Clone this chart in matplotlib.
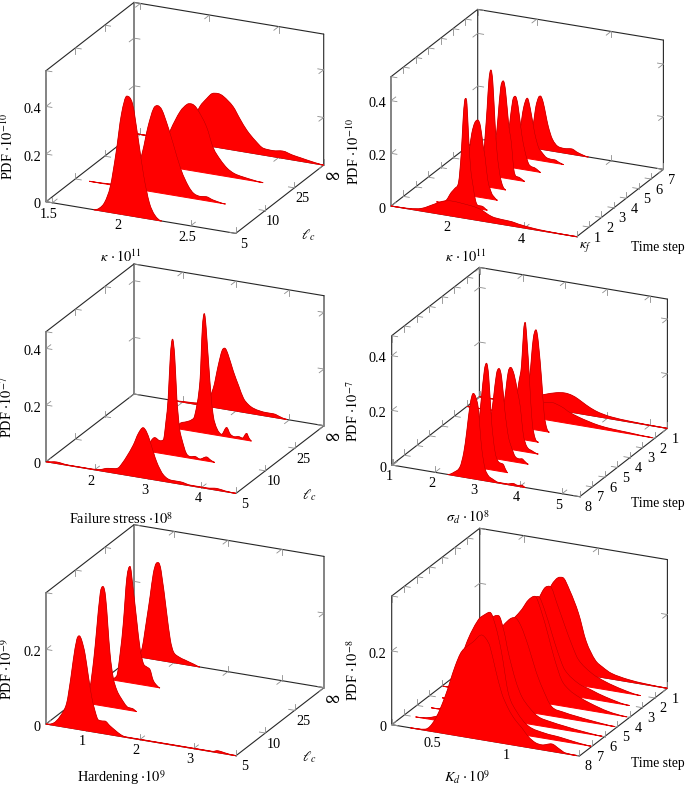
import numpy as np
import matplotlib
matplotlib.use('Agg')
import matplotlib.pyplot as plt
from matplotlib.path import Path
from matplotlib.patches import PathPatch

plt.rcParams['font.family'] = ['Liberation Serif', 'DejaVu Sans']
plt.rcParams['mathtext.fontset'] = 'stix'

# top left: kappa against l_c
kappa_lc_x = [
    [1.80, 1.84, 1.88, 1.92, 1.96, 2.00, 2.04, 2.08, 2.12, 2.16, 2.20, 2.24, 2.29],
    [1.555, 1.70, 1.80, 1.88, 1.94, 1.98, 2.02, 2.05, 2.08, 2.12, 2.16, 2.22, 2.27, 2.31, 2.36, 2.40, 2.45, 2.54],
    [1.62, 1.75, 1.85, 1.93, 2.00, 2.05, 2.08, 2.12, 2.19, 2.24, 2.29, 2.34, 2.39, 2.45, 2.60],
    [1.48, 1.60, 1.75, 1.85, 1.93, 1.98, 2.02, 2.06, 2.10, 2.17, 2.22, 2.27, 2.33, 2.39, 2.46, 2.53, 2.60, 2.66, 2.74, 2.826],
]
kappa_lc_y = [
    [0, .01, .04, .11, .25, .42, .50, .47, .33, .18, .07, .02, 0],
    [0, .003, .01, .04, .16, .27, .35, .365, .35, .29, .22, .11, .05, .022, .014, .017, .008, 0],
    [0, .005, .03, .155, .24, .275, .28, .265, .196, .11, .066, .035, .018, .01, 0],
    [0, .002, .01, .06, .158, .197, .222, .226, .218, .182, .135, .092, .055, .028, .025, .03, .02, .014, .006, 0],
]

# top right: kappa against time step
kappa_ts_x = [
    [.41, .9, 1.235, 1.59, 1.8, 2.04, 2.3, 2.76, 3.12, 3.4, 3.66, 3.84, 4.2, 4.55, 5.41],
    [1.3, 1.55, 1.70, 1.80, 1.90, 1.97, 2.02, 2.06, 2.09, 2.12, 2.16, 2.22, 2.29, 2.35, 2.42, 2.52, 2.60, 2.67],
    [1.4, 1.7, 1.85, 1.92, 2.0, 2.08, 2.15, 2.22, 2.275, 2.35, 2.45, 2.52, 2.61],
    [1.5, 1.75, 1.88, 1.95, 2.0, 2.05, 2.10, 2.15, 2.21, 2.27, 2.35, 2.42, 2.5],
    [1.5, 1.78, 1.9, 1.96, 2.03, 2.10, 2.16, 2.24, 2.32, 2.38, 2.44, 2.52, 2.6, 2.68],
    [1.5, 1.75, 1.87, 1.94, 2.02, 2.09, 2.16, 2.26, 2.35, 2.44, 2.52, 2.6, 2.68, 2.77],
    [1.5, 1.75, 1.88, 1.98, 2.08, 2.16, 2.28, 2.38, 2.46, 2.6, 2.75, 2.82, 2.92, 3.06],
    [1.5, 1.7, 1.82, 1.91, 1.98, 2.05, 2.10, 2.17, 2.24, 2.31, 2.42, 2.58, 2.75, 2.94, 3.1, 3.39],
]
kappa_ts_y = [
    [0, .002, .01, .035, .05, .057, .055, .046, .023, .018, .016, .011, .005, .002, 0],
    [0, .01, .045, .063, .09, .20, .33, .40, .411, .39, .28, .15, .08, .03, .012, .012, .006, 0],
    [0, .03, .17, .238, .28, .292, .27, .2, .157, .07, .023, .01, 0],
    [0, .02, .08, .2, .3, .41, .446, .40, .245, .13, .047, .012, 0],
    [0, .03, .14, .228, .34, .368, .33, .21, .135, .04, .014, .012, .006, 0],
    [0, .03, .11, .167, .255, .273, .24, .135, .07, .027, .016, .014, .008, 0],
    [0, .03, .10, .19, .229, .19, .10, .05, .034, .015, .012, .012, .006, 0],
    [0, .02, .06, .094, .16, .195, .201, .18, .135, .09, .045, .02, .017, .02, .01, 0],
]

# middle left: failure stress against l_c
stress_lc_x = [
    [1.0875, 1.29, 1.5, 1.9, 2.1, 2.225, 2.3, 2.44, 2.52, 2.6, 2.725, 2.82, 2.91, 2.97, 3.04, 3.16, 3.29, 3.45, 3.6, 3.8, 4.1, 4.29, 4.45, 4.65],
    [2.44, 2.5, 2.58, 2.67, 2.74, 2.79, 2.83, 2.87, 2.91, 2.95, 2.99, 3.04, 3.08, 3.17, 3.25, 3.33, 3.42, 3.55, 3.62, 3.7],
    [2.44, 2.5, 2.625, 2.72, 2.78, 2.875, 2.92, 2.956, 2.99, 3.06, 3.12, 3.19, 3.28, 3.375, 3.44, 3.52, 3.6, 3.67, 3.75, 3.79, 3.84],
    [1.76, 2.0, 2.3, 2.45, 2.575, 2.67, 2.74, 2.79, 2.85, 2.95, 3.05, 3.14, 3.23, 3.32, 3.45, 3.575, 3.7, 3.85, 3.95],
]
stress_lc_y = [
    [0, .005, .001, .001, .004, .012, .014, .02, .04, .065, .11, .154, .177, .165, .132, .065, .022, .008, .008, .002, .002, .006, .002, 0],
    [0, .035, .052, .044, .05, .12, .2, .35, .41, .35, .203, .1, .065, .014, .006, .009, .003, .014, .006, 0],
    [0, .02, .03, .04, .059, .18, .37, .422, .37, .185, .07, .024, .006, .033, .012, .005, .008, .005, .024, .01, 0],
    [0, .002, .006, .015, .067, .152, .205, .215, .195, .138, .09, .049, .03, .02, .014, .012, .012, .004, 0],
]

# middle right: sigma_d against time step
sigma_ts_x = [
    [2.3, 2.45, 2.59, 2.68, 2.75, 2.83, 2.905, 2.96, 3.02, 3.1, 3.18, 3.26, 3.34, 3.5, 3.7, 3.85, 3.95, 4.05, 4.13],
    [2.4, 2.6, 2.72, 2.8, 2.87, 2.92, 2.97, 3.04, 3.12, 3.2, 3.26, 3.31, 3.37, 3.42],
    [2.4, 2.6, 2.72, 2.79, 2.86, 2.92, 2.98, 3.06, 3.14, 3.22, 3.3, 3.4, 3.46, 3.53, 3.61],
    [2.4, 2.6, 2.76, 2.84, 2.9, 2.98, 3.06, 3.12, 3.2, 3.28, 3.4, 3.55],
    [2.4, 2.6, 2.72, 2.8, 2.86, 2.91, 2.945, 2.98, 3.05, 3.11, 3.18, 3.26],
    [2.4, 2.6, 2.76, 2.84, 2.905, 2.96, 3.04, 3.1, 3.16, 3.22],
    [.976, 1.5, 2.0, 2.4, 2.7, 2.98, 3.22, 3.4, 3.61, 3.85, 4.09, 4.4, 4.8, 5.36],
    [.976, 1.5, 2.0, 2.3, 2.53, 2.8, 3.0, 3.16, 3.31, 3.5, 3.71, 3.9, 4.1, 4.5, 5.417],
]
sigma_ts_y = [
    [0, .012, .035, .09, .168, .27, .312, .30, .26, .12, .045, .02, .012, .002, .002, .007, .003, .006, 0],
    [0, .04, .14, .256, .36, .387, .34, .176, .07, .034, .03, .028, .01, 0],
    [0, .04, .14, .22, .31, .332, .3, .178, .09, .049, .02, .014, .016, .008, 0],
    [0, .04, .183, .28, .30, .275, .215, .168, .06, .02, .008, 0],
    [0, .03, .13, .21, .27, .4, .43, .38, .216, .07, .012, 0],
    [0, .03, .196, .33, .366, .32, .18, .06, .012, 0],
    [0, .002, .008, .03, .055, .067, .057, .042, .03, .02, .012, .007, .004, 0],
    [0, .002, .012, .035, .049, .062, .066, .062, .052, .035, .02, .012, .007, .003, 0],
]

# bottom left: hardening against l_c
hard_lc_x = [
    [.257, .40, .517, .64, .72, .765, .83, .876, .92, .98, 1.04, 1.105, 1.17, 1.23, 1.3, 1.353, 1.44, 1.54, 1.64, 1.73, 2.2, 3.0, 3.35, 3.45, 3.52, 3.65, 3.787],
    [.257, .4, .53, .6, .653, .72, .771, .82, .9, .96, 1.025, 1.1, 1.24, 1.32, 1.4],
    [.3, .48, .55, .604, .67, .728, .78, .851, .91, .975, 1.04, 1.1, 1.15, 1.19, 1.285],
    [.28, .4, .492, .56, .616, .67, .709, .76, .864, .93, .988, 1.08, 1.2, 1.36, 1.48],
]
hard_lc_y = [
    [0, .006, .026, .064, .135, .184, .24, .251, .24, .206, .15, .094, .055, .034, .033, .034, .024, .014, .005, .001, .001, .001, .001, .005, .004, .001, 0],
    [0, .005, .045, .12, .2, .3, .32, .29, .144, .08, .049, .03, .007, .006, 0],
    [0, .012, .08, .156, .28, .312, .26, .171, .1, .058, .05, .044, .02, .01, 0],
    [0, .02, .102, .17, .229, .258, .261, .24, .129, .06, .029, .018, .012, .005, 0],
]

# bottom right: K_d against time step
kd_ts_x = [
    [.33, .43, .495, .563, .63, .675, .753, .81, .84, .865, .9, .944, .99, 1.034, 1.08, 1.123, 1.17, 1.213, 1.28, 1.33, 1.37, 1.45],
    [.28, .4, .47, .55, .62, .7, .75, .78, .82, .859, .904, .96, 1.038, 1.15, 1.25, 1.37, 1.46],
    [.3, .45, .55, .63, .7, .753, .79, .82, .87, .91, .96, 1.02, 1.1, 1.2, 1.32, 1.45],
    [.29, .45, .55, .65, .735, .78, .82, .87, .92, .96, 1.027, 1.1, 1.2, 1.32, 1.45],
    [.21, .45, .55, .65, .74, .785, .83, .87, .92, .96, 1.009, 1.06, 1.12, 1.2, 1.32, 1.446],
    [.3, .45, .55, .65, .72, .768, .81, .858, .9, .946, 1.036, 1.12, 1.22, 1.38],
    [.3, .45, .55, .65, .72, .762, .81, .863, .91, .953, 1.04, 1.13, 1.25, 1.37],
    [.3, .45, .55, .65, .688, .73, .76, .81, .868, .92, .98, 1.03, 1.09, 1.2, 1.32, 1.466],
]
kd_ts_y = [
    [0, .003, .033, .1, .186, .23, .262, .284, .275, .256, .2, .135, .095, .069, .05, .029, .016, .013, .02, .01, .002, 0],
    [0, .008, .03, .12, .22, .29, .31, .317, .28, .212, .106, .06, .026, .014, .01, .003, 0],
    [0, .01, .08, .19, .265, .28, .24, .183, .11, .071, .045, .024, .016, .01, .004, 0],
    [0, .01, .07, .19, .24, .25, .23, .178, .115, .075, .025, .016, .01, .004, 0],
    [0, .01, .07, .19, .243, .272, .285, .25, .183, .125, .07, .047, .033, .02, .006, 0],
    [0, .01, .07, .18, .24, .254, .22, .161, .11, .067, .037, .025, .012, 0],
    [0, .01, .07, .18, .245, .255, .21, .153, .105, .069, .039, .022, .008, 0],
    [0, .01, .07, .19, .228, .25, .253, .22, .163, .09, .044, .028, .015, .006, .002, 0],
]

lc_labels = ['5', '10', '25', r'$\infty$']
step_labels_up = [r'$\kappa_f$', '1', '2', '3', '4', '5', '6', '7']
step_labels_down = ['8', '7', '6', '5', '4', '3', '2', '1']

# box geometry in pixels: origin, x edge, depth edge, height
panels = [
    dict(xs=kappa_lc_x, ys=kappa_lc_y, o=(46, 201.7), xv=(189.7, 31.7), dv=(88, -68.3), zh=131,
         xlim=(1.454, 2.826), zmax=.55, xticks=[1.5, 2, 2.5], xtl=['1.5', '2', '2.5'],
         zticks=[.2, .4], ztl=['0.2', '0.4'], dtl=lc_labels,
         xlabel=r'$\kappa\,\cdot 10^{11}$', xl=(120.7, 257), ylabel=r'PDF $\cdot 10^{-10}$', yl=(7.5, 147),
         side=r'$\ell_c$', sl=(308.5, 235)),
    dict(xs=kappa_ts_x, ys=kappa_ts_y, o=(391, 206), xv=(185.7, 30.7), dv=(86.7, -67.3), zh=129.3,
         xlim=(.41, 5.41), zmax=.491, xticks=[2, 4], xtl=['2', '4'],
         zticks=[.2, .4], ztl=['0.2', '0.4'], dtl=step_labels_up,
         xlabel=r'$\kappa\,\cdot 10^{11}$', xl=(465.7, 257), ylabel=r'PDF $\cdot 10^{-10}$', yl=(353.5, 152),
         side='Time step', sl=(631, 247.7)),
    dict(xs=stress_lc_x, ys=stress_lc_y, o=(46, 461.7), xv=(190, 31.7), dv=(88, -67.7), zh=130,
         xlim=(1.0875, 4.65), zmax=.459, xticks=[2, 3, 4], xtl=['2', '3', '4'],
         zticks=[.2, .4], ztl=['0.2', '0.4'], dtl=lc_labels,
         xlabel=r'Failure stress $\cdot 10^{8}$', xl=(121, 519), ylabel=r'PDF $\cdot 10^{-7}$', yl=(7.5, 407),
         side=r'$\ell_c$', sl=(309.5, 495)),
    dict(xs=sigma_ts_x, ys=sigma_ts_y, o=(391.7, 465), xv=(188, 31.7), dv=(87.7, -68.3), zh=129.3,
         xlim=(.976, 5.417), zmax=.473, xticks=[1, 2, 3, 4, 5], xtl=['1', '2', '3', '4', '5'],
         zticks=[.2, .4], ztl=['0.2', '0.4'], dtl=step_labels_down,
         xlabel=r'$\sigma_d\,\cdot 10^{8}$', xl=(467.7, 517.7), ylabel=r'PDF $\cdot 10^{-7}$', yl=(353.5, 411),
         side='Time step', sl=(631, 503.3)),
    dict(xs=hard_lc_x, ys=hard_lc_y, o=(46, 724), xv=(190, 31.7), dv=(88, -68), zh=131.3,
         xlim=(.257, 3.787), zmax=.352, xticks=[1, 2, 3], xtl=['1', '2', '3'],
         zticks=[.2], ztl=['0.2'], dtl=lc_labels,
         xlabel=r'Hardening $\cdot 10^{9}$', xl=(121.7, 777.5), ylabel=r'PDF $\cdot 10^{-9}$', yl=(7.5, 669),
         side=r'$\ell_c$', sl=(309.5, 757)),
    dict(xs=kd_ts_x, ys=kd_ts_y, o=(391.7, 724.7), xv=(187.7, 31.3), dv=(88, -67.7), zh=128.7,
         xlim=(.204, 1.466), zmax=.349, xticks=[.5, 1], xtl=['0.5', '1'],
         zticks=[.2], ztl=['0.2'], dtl=step_labels_down,
         xlabel=r'$K_d\,\cdot 10^{9}$', xl=(466.7, 777.5), ylabel=r'PDF $\cdot 10^{-8}$', yl=(353.5, 670),
         side='Time step', sl=(631, 763.3)),
]

LINE = '#262626'
TICK = '#8c8c8c'
FONT = 10.3
PRONG = 6.0


def project(p, x, d, z):
    u = (np.asarray(x, dtype=float) - p['xlim'][0]) / (p['xlim'][1] - p['xlim'][0])
    px = p['o'][0] + u * p['xv'][0] + d * p['dv'][0]
    py = p['o'][1] + u * p['xv'][1] + d * p['dv'][1] - np.asarray(z, dtype=float) / p['zmax'] * p['zh']
    return px, py


def slopes(x, y):
    h = np.diff(x)
    s = np.diff(y) / h
    m = np.zeros(len(x))
    for i in range(1, len(x) - 1):
        if s[i - 1] * s[i] > 0:
            m[i] = (y[i + 1] - y[i - 1]) / (x[i + 1] - x[i - 1])
            m[i] = np.sign(m[i]) * min(abs(m[i]), 3 * abs(s[i - 1]), 3 * abs(s[i]))
    return m


def curve_paths(p, xs, ys, d):
    # bezier pieces through the read points, top edge and closed outline
    x = np.array(xs, dtype=float)
    y = np.array(ys, dtype=float)
    m = slopes(x, y)
    verts = [project(p, x[0], d, y[0])]
    codes = [Path.MOVETO]
    for i in range(len(x) - 1):
        h = x[i + 1] - x[i]
        verts.append(project(p, x[i] + h / 3, d, max(y[i] + m[i] * h / 3, 0)))
        verts.append(project(p, x[i + 1] - h / 3, d, max(y[i + 1] - m[i + 1] * h / 3, 0)))
        verts.append(project(p, x[i + 1], d, y[i + 1]))
        codes += [Path.CURVE4] * 3
    top = Path(verts, codes)
    closed = Path(verts + [project(p, x[0], d, 0)], codes + [Path.LINETO])
    return top, closed


def prong(ax, start, other):
    v = np.array(other) - np.array(start)
    v = v / np.hypot(v[0], v[1]) * PRONG
    ax.plot([start[0], start[0] + v[0]], [start[1], start[1] + v[1]], color=TICK, lw=0.6, zorder=2)


def draw_box(ax, p):
    x0, x1 = p['xlim']
    zm = p['zmax']
    edges = [
        ((x0, 0, 0), (x1, 0, 0)), ((x0, 1, 0), (x1, 1, 0)), ((x0, 1, zm), (x1, 1, zm)),
        ((x0, 0, 0), (x0, 1, 0)), ((x0, 0, zm), (x0, 1, zm)), ((x1, 0, 0), (x1, 1, 0)),
        ((x0, 0, 0), (x0, 0, zm)), ((x0, 1, 0), (x0, 1, zm)), ((x1, 1, 0), (x1, 1, zm)),
    ]
    for a, b in edges:
        pa, pb = project(p, *a), project(p, *b)
        ax.plot([pa[0], pb[0]], [pa[1], pb[1]], color=LINE, lw=0.8, zorder=1,
                solid_capstyle='round', snap=False)

    # every tick is two short prongs pointing into the box
    for xt in p['xticks']:
        for d, z, dd, dz in [(0, 0, 1, zm), (1, 0, 0, zm), (1, zm, 0, 0)]:
            s = project(p, xt, d, z)
            prong(ax, s, project(p, xt, dd, z))
            prong(ax, s, project(p, xt, d, dz))
    nd = len(p['dtl'])
    for i in range(nd):
        d = i / (nd - 1)
        for x, z, ox, oz in [(x0, 0, x1, zm), (x0, zm, x1, 0), (x1, 0, x0, zm)]:
            s = project(p, x, d, z)
            prong(ax, s, project(p, ox, d, z))
            prong(ax, s, project(p, x, d, oz))
    for zt in [0] + p['zticks']:
        for x, d, ox, od in [(x0, 0, x1, 1), (x0, 1, x1, 0), (x1, 1, x0, 0)]:
            s = project(p, x, d, zt)
            prong(ax, s, project(p, ox, d, zt))
            prong(ax, s, project(p, x, od, zt))


def draw_labels(ax, p):
    for xt, s in zip(p['xticks'], p['xtl']):
        px, py = project(p, xt, 0, 0)
        ax.text(px - 3.5, py + 11.3, s, fontsize=FONT, ha='center', va='center', zorder=6)
    nd = len(p['dtl'])
    for i, s in enumerate(p['dtl']):
        px, py = project(p, p['xlim'][1], i / (nd - 1), 0)
        big = 12 if 'infty' in s else FONT
        ax.text(px + 8.3, py + 11, s, fontsize=big, ha='center', va='center', zorder=6)
    for zt, s in zip([0] + p['zticks'], ['0'] + p['ztl']):
        px, py = project(p, p['xlim'][0], 0, zt)
        ax.text(px - 5, py + 3.2, s, fontsize=FONT, ha='right', va='center', zorder=6)
    ax.text(*p['xl'], p['xlabel'], fontsize=FONT, ha='center', va='center', zorder=6)
    ax.text(*p['yl'], p['ylabel'], fontsize=FONT, rotation=90, ha='center', va='center', zorder=6)
    if p['side'] == 'Time step':
        ax.text(*p['sl'], p['side'], fontsize=9.8, ha='left', va='center', zorder=6)
    else:
        ax.text(*p['sl'], p['side'], fontsize=FONT, ha='center', va='center', zorder=6)


def main():
    fig = plt.figure(figsize=(6.85, 7.87), dpi=100)
    ax = fig.add_axes([0, 0, 1, 1])
    ax.set_xlim(0, 685)
    ax.set_ylim(787, 0)
    ax.axis('off')

    for p in panels:
        draw_box(ax, p)
        n = len(p['xs'])
        # back curve first so that the nearer ones cover it
        for i in range(n - 1, -1, -1):
            d = i / (n - 1)
            top, closed = curve_paths(p, p['xs'][i], p['ys'][i], d)
            zo = 3 + (n - i) * 0.01
            ax.add_patch(PathPatch(closed, facecolor='#ff0000', edgecolor='#ff0000', lw=0.7, zorder=zo))
            ax.add_patch(PathPatch(top, facecolor='none', edgecolor='#a00000', lw=0.3, alpha=0.9, zorder=zo))
        draw_labels(ax, p)

    fig.savefig('out.png', dpi=100)
    plt.close(fig)


if __name__ == "__main__":
    main()
